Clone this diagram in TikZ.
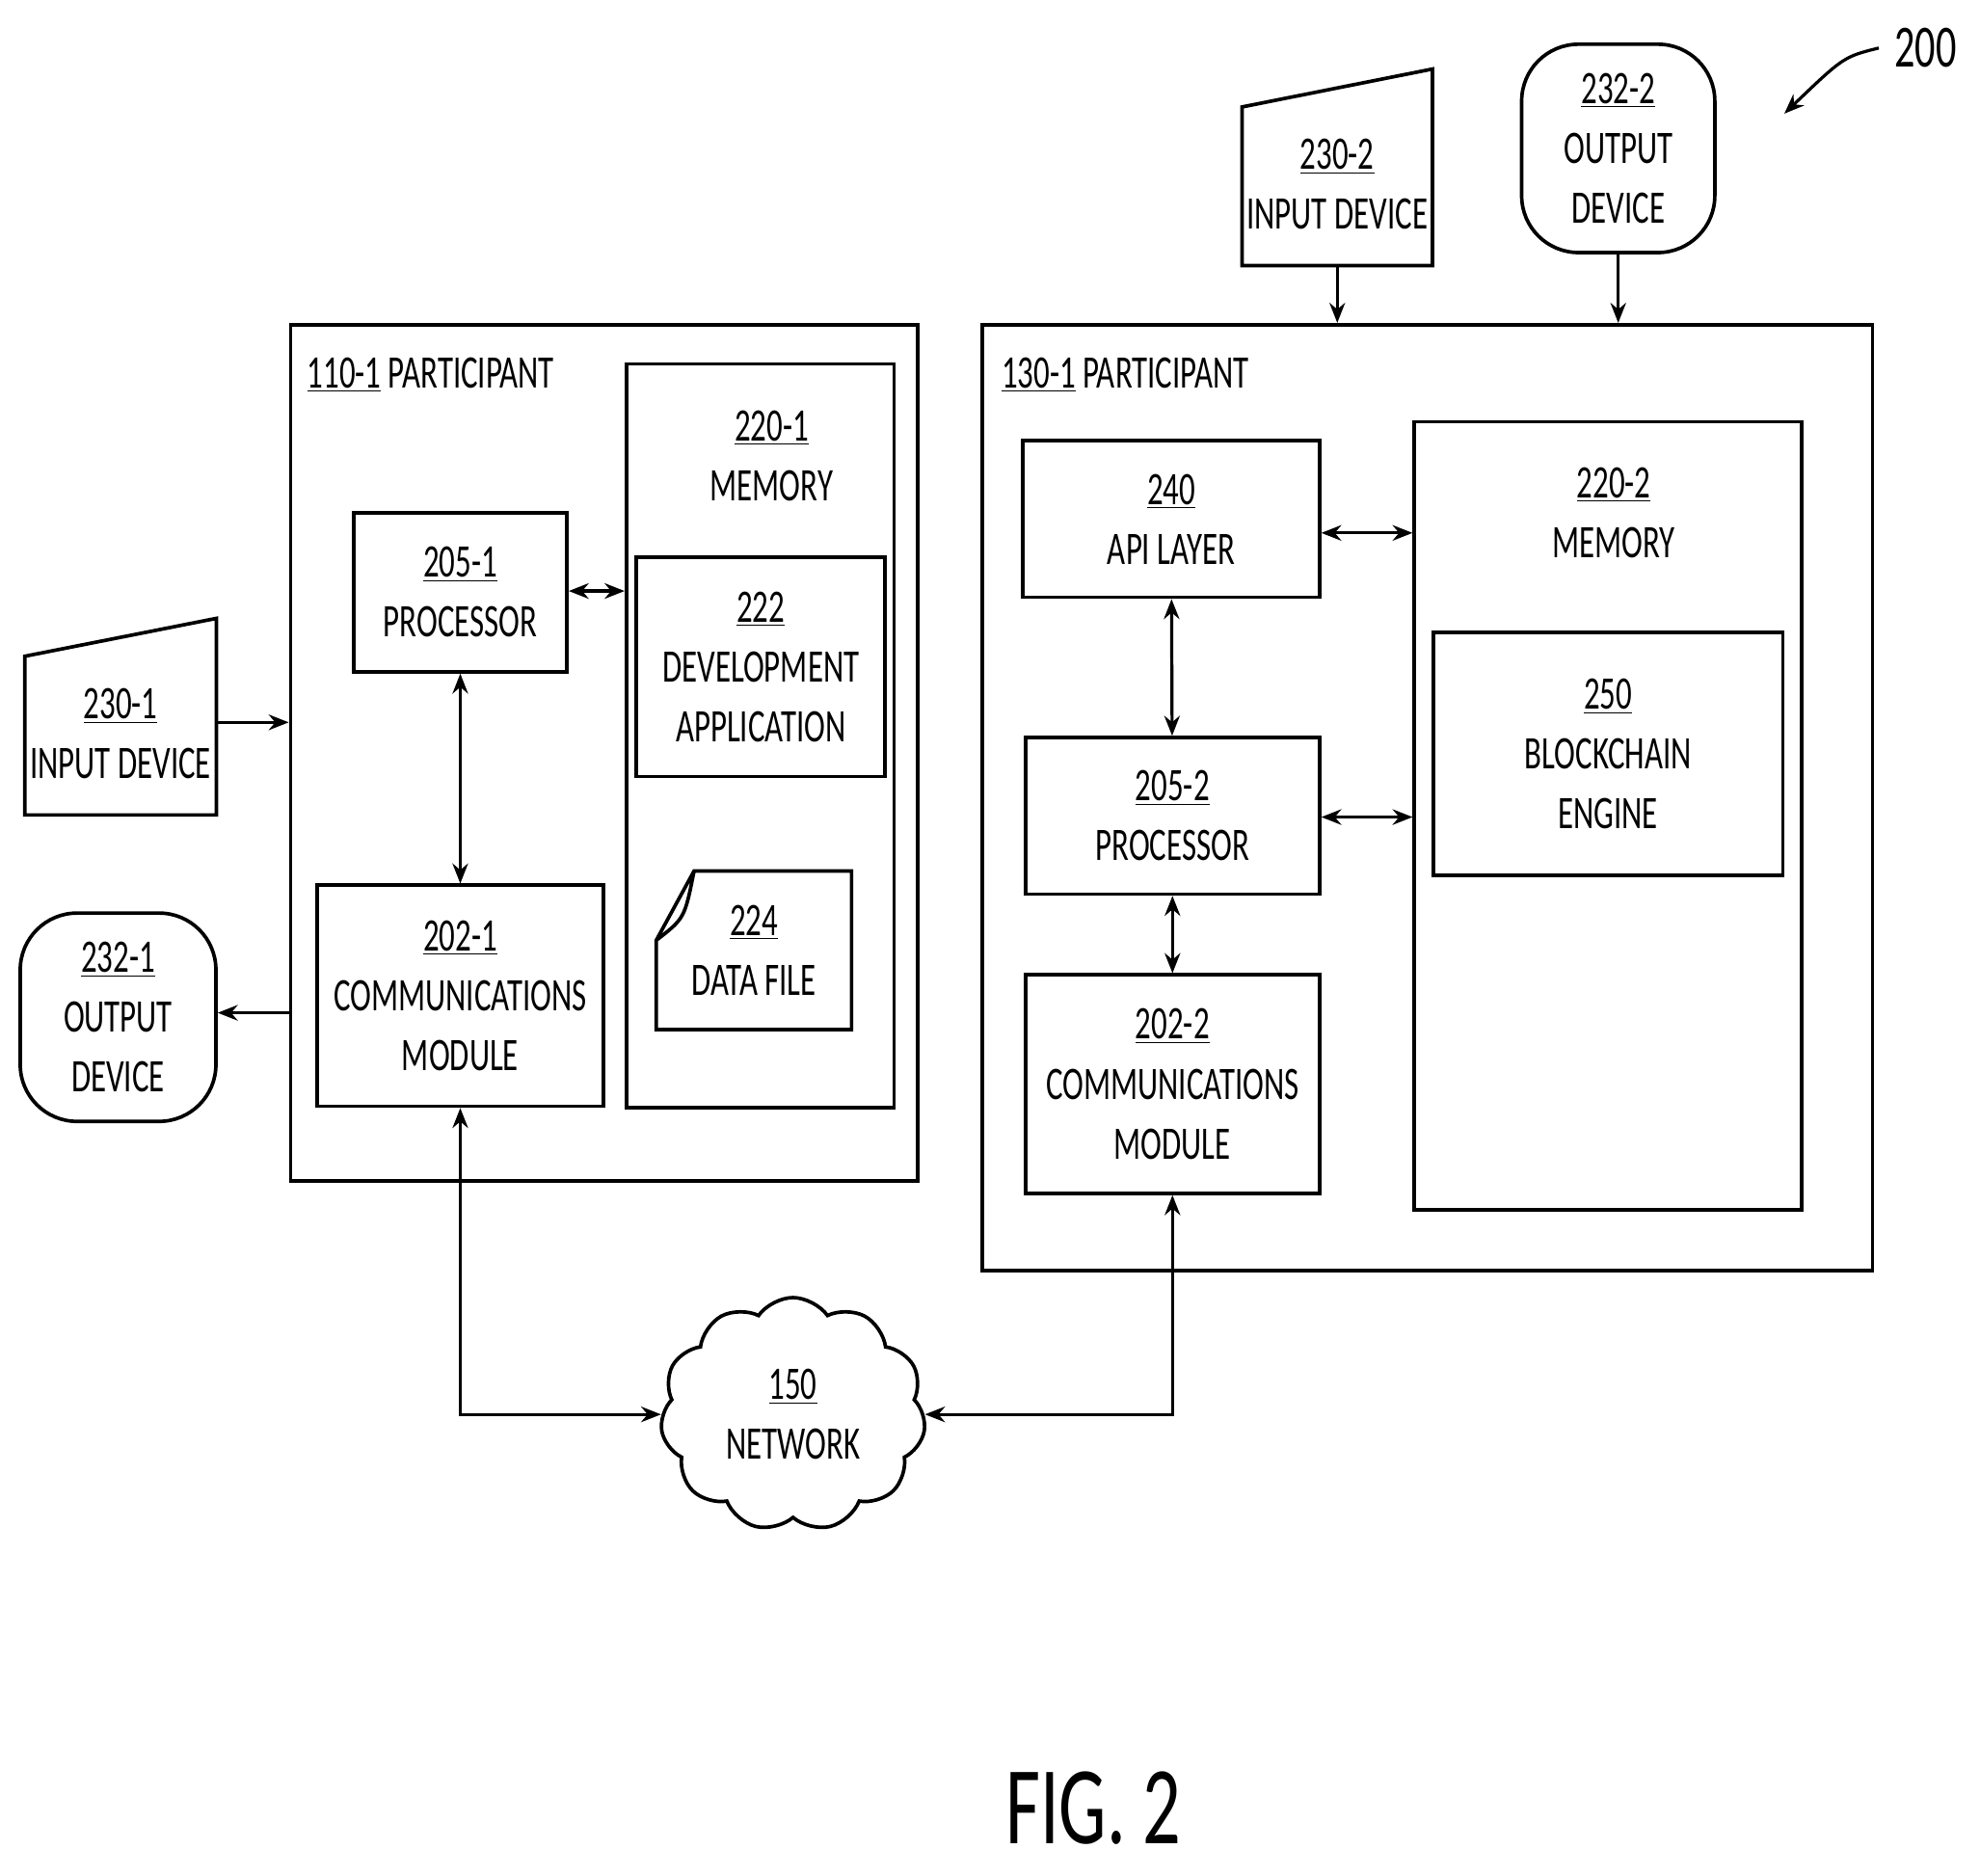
\documentclass[tikz,border=0pt]{standalone}
\usepackage{fontspec}
\setmainfont{Carlito}[FakeStretch=0.68]
\usetikzlibrary{arrows.meta,shapes.symbols,positioning}
\newcommand{\ul}[1]{\underline{#1}}
\begin{document}
\fontsize{21}{27}\selectfont
\begin{tikzpicture}[x=0.02cm,y=-0.02cm,>={Stealth[length=9pt,width=7pt]},
  box/.style={draw,line width=1.6pt,inner sep=0pt},
  lbl/.style={align=center,inner sep=0pt},
  conn/.style={line width=1.4pt}]
  \useasboundingbox (0,0) rectangle (1568,1485);

  % left participant
  \node[box,minimum width=9.94cm,minimum height=13.56cm] (p1) at (478.5,596) {};
  \node[lbl,anchor=west] (p1t) at (243,297) {\ul{110-1} PARTICIPANT};
  \node[box,minimum width=4.24cm,minimum height=11.78cm] (mem1) at (602,582.5) {};
  \node[lbl] (mem1t) at (611,361) {\ul{220-1}\\MEMORY};
  \node[box,minimum width=3.38cm,minimum height=2.52cm,lbl] (proc1) at (364.5,469) {\ul{205-1}\\PROCESSOR};
  \node[box,minimum width=3.94cm,minimum height=3.48cm,lbl] (dev) at (602.5,528) {\ul{222}\\DEVELOPMENT\\APPLICATION};
  \node[minimum width=3.08cm,minimum height=2.5cm,lbl] (file) at (597,752.5) {\ul{224}\\DATA FILE};
  \draw[line width=1.6pt] ([yshift=-1.1cm]file.north west) -- ([xshift=0.6cm]file.north west) -- (file.north east)
    -- (file.south east) -- (file.south west) -- ([yshift=-1.1cm]file.north west)
    .. controls ([xshift=0.45cm,yshift=-0.75cm]file.north west) .. ([xshift=0.6cm]file.north west);
  \node[box,minimum width=4.54cm,minimum height=3.5cm,lbl] (com1) at (364.5,788.5) {\ul{202-1}\\COMMUNICATIONS\\MODULE};

  \node[minimum width=3.02cm,minimum height=3.1cm,lbl] (in1) at (95.5,567.5) {\\[2pt]\ul{230-1}\\INPUT DEVICE};
  \draw[line width=1.6pt] ([yshift=-0.6cm]in1.north west) -- (in1.north east) -- (in1.south east) -- (in1.south west) -- cycle;
  \node[box,rounded corners=0.9cm,minimum width=3.1cm,minimum height=3.3cm,lbl] (out1) at (93.5,805.5) {\ul{232-1}\\OUTPUT\\DEVICE};

  % right participant
  \node[box,minimum width=14.1cm,minimum height=14.98cm] (p2) at (1130.5,631.5) {};
  \node[lbl,anchor=west] (p2t) at (793,297) {\ul{130-1} PARTICIPANT};
  \node[box,minimum width=4.7cm,minimum height=2.48cm,lbl] (api) at (927.5,411) {\ul{240}\\API LAYER};
  \node[box,minimum width=4.66cm,minimum height=2.48cm,lbl] (proc2) at (928.5,646) {\ul{205-2}\\PROCESSOR};
  \node[box,minimum width=4.66cm,minimum height=3.46cm,lbl] (com2) at (928.5,858.5) {\ul{202-2}\\COMMUNICATIONS\\MODULE};
  \node[box,minimum width=6.14cm,minimum height=12.48cm] (mem2) at (1273.5,646) {};
  \node[lbl] (mem2t) at (1278,406) {\ul{220-2}\\MEMORY};
  \node[box,minimum width=5.54cm,minimum height=3.84cm,lbl] (bc) at (1273.5,597) {\ul{250}\\BLOCKCHAIN\\ENGINE};

  \node[minimum width=3.0cm,minimum height=3.1cm,lbl] (in2) at (1059,132.5) {\\[2pt]\ul{230-2}\\INPUT DEVICE};
  \draw[line width=1.6pt] ([yshift=-0.6cm]in2.north west) -- (in2.north east) -- (in2.south east) -- (in2.south west) -- cycle;
  \node[box,rounded corners=0.9cm,minimum width=3.06cm,minimum height=3.3cm,lbl] (out2) at (1281.5,117.5) {\ul{232-2}\\OUTPUT\\DEVICE};

  \node[cloud,draw,line width=1.6pt,cloud puffs=11,cloud puff arc=110,minimum width=4.2cm,minimum height=3.7cm,aspect=1.1,lbl] (net) at (628,1120) {\ul{150}\\NETWORK};

  \node[font=\fontsize{27}{32}\selectfont] (num) at (1525,38) {200};
  \node[font=\fontsize{50}{60}\selectfont] (fig) at (866,1432) {FIG. 2};
  \coordinate (numarr) at (1413,90);
  \draw[conn,->] (num.west) .. controls (1460,45) .. (numarr);

  % connectors
  \draw[conn,->] (in1.east |- 0,572) -- (p1.west |- 0,572);
  \draw[conn,->] (p1.west |- 0,802) -- (out1.east |- 0,802);
  \draw[conn,<->] (proc1.east |- 0,468) -- (mem1.west |- 0,468);
  \draw[conn,<->] (proc1) -- (com1);
  \draw[conn,<->] (com1.south) |- (net.west);
  \draw[conn,<->] (com2.south) |- (net.east);
  \draw[conn,<->] (api) -- (proc2);
  \draw[conn,<->] (proc2) -- (com2);
  \draw[conn,<->] (api.east |- 0,422) -- (mem2.west |- 0,422);
  \draw[conn,<->] (proc2.east |- 0,647) -- (mem2.west |- 0,647);
  \draw[conn,->] (in2) -- (in2.south |- p2.north);
  \draw[conn,->] (out2) -- (out2.south |- p2.north);
\end{tikzpicture}
\end{document}
